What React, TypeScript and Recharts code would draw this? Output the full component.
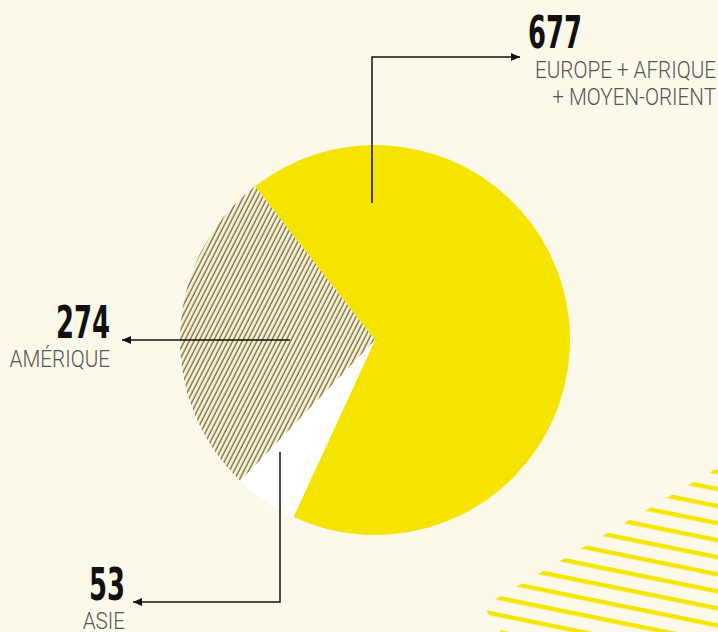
import { Cell, Pie, PieChart } from "recharts"

const regions = ["EUROPE + AFRIQUE + MOYEN-ORIENT", "ASIE", "AMÉRIQUE"]
const regionLines = [["EUROPE + AFRIQUE", "+ MOYEN-ORIENT"], ["ASIE"], ["AMÉRIQUE"]]
const values = [677, 53, 274]
const fills = ["#f5e300", "#ffffff", "url(#hatch)"]

const decoValues = [1]

const CREAM = "#fdf9ea"
const INK = "#111111"
const GREY = "#555555"
const NUM_FONT = "'DejaVu Sans Condensed', 'DejaVu Sans', sans-serif"
const LABEL_FONT = "Roboto, 'DejaVu Sans Condensed', sans-serif"

// leader layout, offsets from the pie center in px
const leaders = [
  {
    path: [[-3, -137], [-3, -283], [145, -283]],
    num: { x: 153, y: -292, anchor: "start" },
    lines: { x: 341, y: [-262, -235] },
  },
  {
    path: [[-95, 112], [-95, 262], [-242, 262]],
    num: { x: -250, y: 260, anchor: "end" },
    lines: { x: -250, y: [289] },
  },
  {
    path: [[-85, 0], [-253, 0]],
    num: { x: -265, y: -2, anchor: "end" },
    lines: { x: -265, y: [27] },
  },
]

const data = regions.map((name, i) => ({ name, value: values[i] }))

function renderLeader(props: any) {
  const { cx, cy, index, value } = props
  const l = leaders[index]
  const d = l.path
    .map(([dx, dy], i) => `${i === 0 ? "M" : "L"}${cx + dx},${cy + dy}`)
    .join(" ")
  const digits = String(value).length
  return (
    <g key={`leader-${index}`}>
      <path d={d} fill="none" stroke={INK} strokeWidth={1.5} markerEnd="url(#arrow)" />
      <text
        x={cx + l.num.x}
        y={cy + l.num.y}
        textAnchor={l.num.anchor}
        fontFamily={NUM_FONT}
        fontWeight={700}
        fontSize={45}
        textLength={digits * 18}
        lengthAdjust="spacingAndGlyphs"
        fill={INK}
      >
        {value}
      </text>
      {regionLines[index].map((line, j) => (
        <text
          key={line}
          transform={`translate(${cx + l.lines.x},${cy + l.lines.y[j]}) scale(0.86,1)`}
          textAnchor="end"
          fontFamily={LABEL_FONT}
          fontWeight={300}
          fontSize={24}
          fill={GREY}
        >
          {line}
        </text>
      ))}
    </g>
  )
}

export default function App() {
  return (
    <div style={{ width: 718, height: 632, background: CREAM, overflow: "hidden" }}>
      <style>{"body{margin:0}"}</style>
      <PieChart width={718} height={632} margin={{ top: 0, right: 0, bottom: 0, left: 0 }}>
        <defs>
          <pattern
            id="hatch"
            patternUnits="userSpaceOnUse"
            width={4.3}
            height={10}
            patternTransform="rotate(27)"
          >
            <rect x={0} y={0} width={4.3} height={10} fill="#fcf1c4" />
            <line x1={1} y1={0} x2={1} y2={10} stroke="#505050" strokeWidth={1.1} />
          </pattern>
          <pattern
            id="stripes"
            patternUnits="userSpaceOnUse"
            width={40}
            height={16.7}
            patternTransform="rotate(11.5)"
          >
            <rect x={0} y={0} width={40} height={4.4} fill="#f5e600" />
          </pattern>
          <marker
            id="arrow"
            viewBox="0 0 9 8"
            refX={9}
            refY={4}
            markerWidth={9}
            markerHeight={8}
            markerUnits="userSpaceOnUse"
            orient="auto"
          >
            <path d="M0,0 L9,4 L0,8 z" fill={INK} />
          </marker>
        </defs>
        <Pie
          data={decoValues.map((value) => ({ name: "deco", value }))}
          dataKey="value"
          cx={785}
          cy={428}
          outerRadius={350}
          startAngle={30.6}
          endAngle={-149.4}
          stroke="none"
          fill="url(#stripes)"
          isAnimationActive={false}
          label={false}
          labelLine={false}
        />
        <Pie
          data={data}
          dataKey="value"
          nameKey="name"
          cx={375}
          cy={340}
          outerRadius={195}
          startAngle={128}
          endAngle={-232}
          stroke="none"
          isAnimationActive={false}
          labelLine={false}
          label={renderLeader}
        >
          {data.map((entry, i) => (
            <Cell key={entry.name} fill={fills[i]} />
          ))}
        </Pie>
      </PieChart>
    </div>
  )
}
